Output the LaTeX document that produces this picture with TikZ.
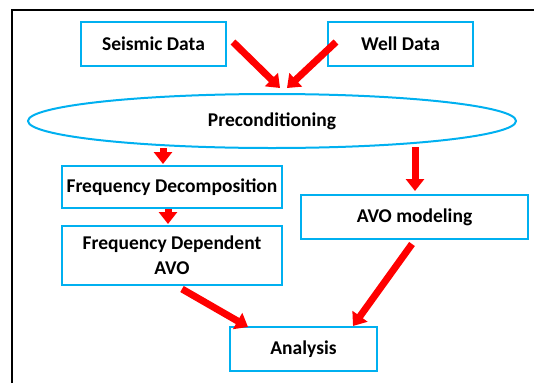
\documentclass[tikz,border=0pt]{standalone}
\usepackage{fontspec}
\setmainfont{Carlito}
\usetikzlibrary{arrows.meta,calc,shapes.geometric}
\definecolor{boxblue}{RGB}{0,176,240}
\definecolor{arrred}{RGB}{255,0,0}
\begin{document}
\begin{tikzpicture}[x=1pt,y=-1pt,
  txt/.style={font=\fontsize{19.5}{25}\selectfont\bfseries, text=black},
  stepbox/.style={txt, draw=boxblue, line width=2pt, fill=white, rectangle,
    inner sep=0pt, align=center},
  flow/.style={draw=arrred, line width=7pt,
    -{Triangle[width=18pt,length=12pt]}, shorten >=0pt}]
  \useasboundingbox (0,0) rectangle (534,383);
  % outer frame
  \draw[line width=1.8pt, black] (12,383) -- (12,10) -- (540,10);

  \node[stepbox, minimum width=145pt, minimum height=44pt] (seis) at (153.5,44) {Seismic Data};
  \node[stepbox, minimum width=145pt, minimum height=44pt] (well) at (400.5,44) {Well Data};
  \node[txt, draw=boxblue, line width=2pt, ellipse, inner sep=0pt,
        minimum width=488pt, minimum height=54pt] (pre) at (272,121) {Preconditioning};
  \node[stepbox, minimum width=220pt, minimum height=42pt] (fd) at (172,187) {Frequency Decomposition};
  \node[stepbox, minimum width=220pt, minimum height=59pt] (fda) at (172,255.5) {Frequency Dependent\\AVO};
  \node[stepbox, minimum width=227pt, minimum height=44pt] (avo) at (414.5,217) {AVO modeling};
  \node[stepbox, minimum width=147pt, minimum height=44pt] (ana) at (303.5,349) {Analysis};

  \draw[flow] ($(seis.east)+(6,-2)$) -- ($(pre.north)+(8,-5)$);
  \draw[flow] ($(well.west)+(9,-2)$) -- ($(pre.north)+(15,-5)$);
  \draw[flow] ($(fd.north)+(-9,-17)$) -- ($(fd.north)+(-9,-1)$);
  \draw[flow] ($(avo.north)+(0.5,-47)$) -- ($(avo.north)+(0.5,-3)$);
  \draw[flow] ($(fd.south)+(-4,0)$) -- ($(fda.north)+(-4,-1)$);
  \draw[flow] ($(fda.south)+(10,3)$) -- ($(ana.north)+(-55.5,1)$);
  \draw[flow] ($(avo.south)+(-2.5,4)$) -- ($(ana.north)+(49.5,0)$);
\end{tikzpicture}
\end{document}
